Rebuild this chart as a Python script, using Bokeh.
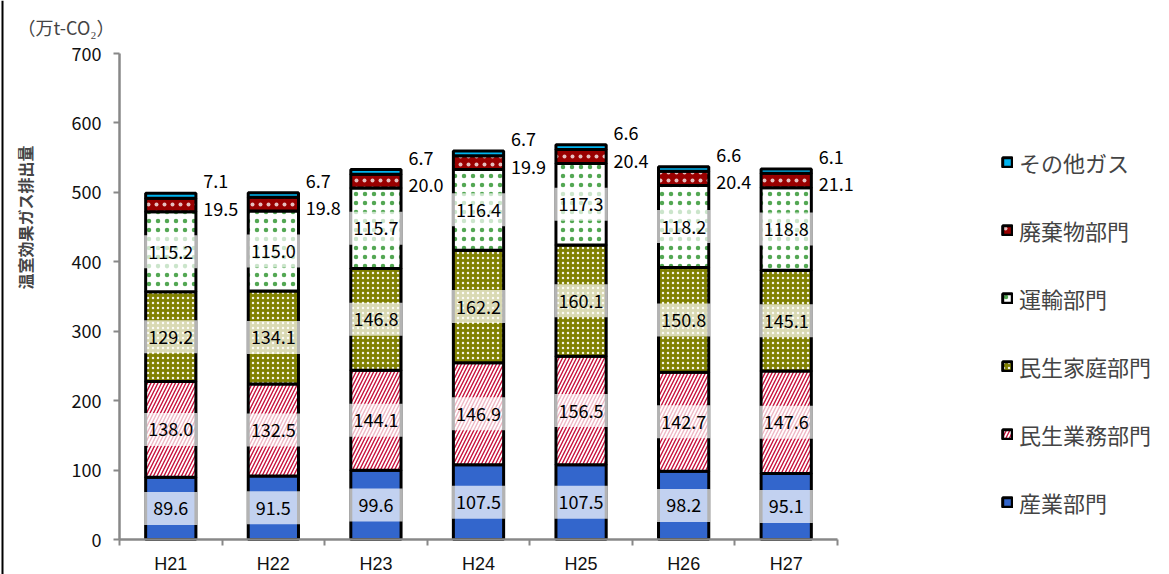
import numpy as np
import pandas as pd
from bokeh.plotting import figure
from bokeh.models import Range1d, FixedTicker, Legend, LegendItem, Label, ColumnDataSource, Span
from bokeh.core.properties import value
from bokeh.embed import file_html
from bokeh.resources import INLINE

# ---- data ----
years = ["H21", "H22", "H23", "H24", "H25", "H26", "H27"]
sangyo = [89.6, 91.5, 99.6, 107.5, 107.5, 98.2, 95.1]      # 産業部門
gyomu = [138.0, 132.5, 144.1, 146.9, 156.5, 142.7, 147.6]  # 民生業務部門
katei = [129.2, 134.1, 146.8, 162.2, 160.1, 150.8, 145.1]  # 民生家庭部門
unyu = [115.2, 115.0, 115.7, 116.4, 117.3, 118.2, 118.8]   # 運輸部門
haiki = [19.5, 19.8, 20.0, 19.9, 20.4, 20.4, 21.1]         # 廃棄物部門
sonota = [7.1, 6.7, 6.7, 6.7, 6.6, 6.6, 6.1]               # その他ガス
series_names = ["産業部門", "民生業務部門", "民生家庭部門", "運輸部門", "廃棄物部門", "その他ガス"]
y_ticks = [0, 100, 200, 300, 400, 500, 600, 700]
y_max = 700
unit_text = "（万t-CO₂）"
y_title = "温室効果ガス排出量"

FONT = "Noto Sans CJK JP"
W, H = 1169, 574
keys = ["s0", "s1", "s2", "s3", "s4", "s5"]
series = [sangyo, gyomu, katei, unyu, haiki, sonota]
n = len(years)
xs = np.arange(n)

# frame spans the whole canvas; plot area (axes) placed inside it
ax_left, ax_right, ax_top, ax_bottom = 119, 837, 53, 539
px_x = (ax_right - ax_left) / n
px_y = (ax_bottom - ax_top) / y_max
x0 = -0.5 - ax_left / px_x
x1 = -0.5 + (W - ax_left) / px_x
y0 = -(H - ax_bottom) / px_y
y1 = y_max + ax_top / px_y

df = pd.DataFrame({k: v for k, v in zip(keys, series)})
df["x"] = xs
source = ColumnDataSource(df)

fills = ["#3366CC", "#FFFFFF", "#808000", "#FFFFFF", "#990000", "#00B4F0"]
hatches = [" ", "/", ".", ".", ".", " "]
hatch_colors = ["#3366CC", "#C8103C", "#FFFFFF", "#1A8A1A", "#FFFFFF", "#00B4F0"]
hatch_scales = [8, 7, 5, 9, 8, 8]
hatch_alphas = [1, 1, 0.9, 0.75, 0.75, 1]
hatch_weights = [1, 1.4, 1.2, 1.0, 1.0, 1]

p = figure(width=W, height=H, output_backend="svg", toolbar_location=None,
           x_range=Range1d(x0, x1), y_range=Range1d(y0, y1),
           min_border=0, min_border_left=0, min_border_right=0,
           min_border_top=0, min_border_bottom=0)
p.outline_line_color = None
p.xgrid.visible = False
p.ygrid.visible = False
p.background_fill_color = "white"
p.border_fill_color = "white"

renderers = p.vbar_stack(keys, x="x", width=0.49, source=source,
                         fill_color=fills, line_color="black", line_width=3,
                         hatch_pattern=hatches, hatch_color=hatch_colors,
                         hatch_scale=hatch_scales, hatch_weight=hatch_weights,
                         hatch_alpha=hatch_alphas)

# label positions derived from stacked values
arr = np.array(series)
tops = np.cumsum(arr, axis=0)
bottoms = tops - arr
mids = bottoms + arr / 2

inner_x, inner_y, inner_t = [], [], []
for i in range(4):
    for j in range(n):
        inner_x.append(xs[j]); inner_y.append(mids[i, j]); inner_t.append(f"{arr[i, j]:.1f}")
inner = ColumnDataSource(dict(x=inner_x, y=inner_y, t=inner_t))
p.rect(x="x", y="y", width=0.52, height=33, height_units="screen", source=inner,
       fill_color="white", fill_alpha=0.7, line_color=None)
p.text(x="x", y="y", text="t", source=inner, text_align="center", text_baseline="middle",
       text_font=value(FONT), text_font_size="18px", text_color="black")

haiki_src = ColumnDataSource(dict(x=xs, y=mids[4], t=[f"{v:.1f}" for v in haiki]))
p.text(x="x", y="y", text="t", source=haiki_src, x_offset=50, y_offset=4,
       text_align="center", text_baseline="middle",
       text_font=value(FONT), text_font_size="18px", text_color="black")
sonota_src = ColumnDataSource(dict(x=xs, y=tops[5], t=[f"{v:.1f}" for v in sonota]))
p.text(x="x", y="y", text="t", source=sonota_src, x_offset=45, y_offset=-12,
       text_align="center", text_baseline="middle",
       text_font=value(FONT), text_font_size="18px", text_color="black")

# axes (fixed inside the frame)
GRAY = "#888888"
ya = p.yaxis[0]
ya.fixed_location = -0.5
ya.bounds = (0, y_max)
ya.ticker = FixedTicker(ticks=y_ticks)
ya.axis_line_color = GRAY
ya.axis_line_width = 2.5
ya.major_tick_line_color = GRAY
ya.major_tick_line_width = 2
ya.major_tick_out = 6
ya.major_tick_in = 0
ya.minor_tick_line_color = None
ya.major_label_standoff = 12
ya.major_label_text_font = FONT
ya.major_label_text_font_size = "18px"
ya.major_label_text_color = "#111111"

xa = p.xaxis[0]
xa.fixed_location = 0
xa.bounds = (-0.5, n - 0.5)
xa.ticker = FixedTicker(ticks=list(xs), minor_ticks=[i - 0.5 for i in range(n + 1)])
xa.major_label_overrides = {int(i): y for i, y in zip(xs, years)}
xa.axis_line_color = GRAY
xa.axis_line_width = 2.5
xa.major_tick_line_color = None
xa.major_tick_out = 0
xa.major_tick_in = 0
xa.minor_tick_line_color = GRAY
xa.minor_tick_line_width = 2
xa.minor_tick_out = 6
xa.minor_tick_in = 0
xa.major_label_standoff = 8
xa.major_label_text_font = "Liberation Sans"
xa.major_label_text_font_size = "18px"
xa.major_label_text_color = "#111111"

# texts outside the plot area
p.add_layout(Label(x=24, y=H - 217, x_units="screen", y_units="screen", text=y_title,
                   angle=np.pi / 2, text_align="center", text_baseline="middle",
                   text_font=FONT, text_font_size="16px", text_font_style="bold"))
p.add_layout(Label(x=17, y=H - 26, x_units="screen", y_units="screen", text=unit_text,
                   text_align="left", text_baseline="middle",
                   text_font=FONT, text_font_size="18px"))

# frame border line on the left edge
p.add_layout(Span(location=2, location_units="screen", dimension="height",
                  line_color="black", line_width=2))

# legend
items = [LegendItem(label=series_names[i], renderers=[renderers[i]]) for i in range(5, -1, -1)]
legend = Legend(items=items, location=(1001, H - 518), padding=0, margin=0,
                glyph_width=12, glyph_height=12, label_standoff=6,
                label_height=32, spacing=36, border_line_color=None,
                background_fill_alpha=0,
                label_text_font=FONT, label_text_font_size="22px")
p.add_layout(legend, "center")

open("out.html", "w").write(file_html(p, INLINE))
